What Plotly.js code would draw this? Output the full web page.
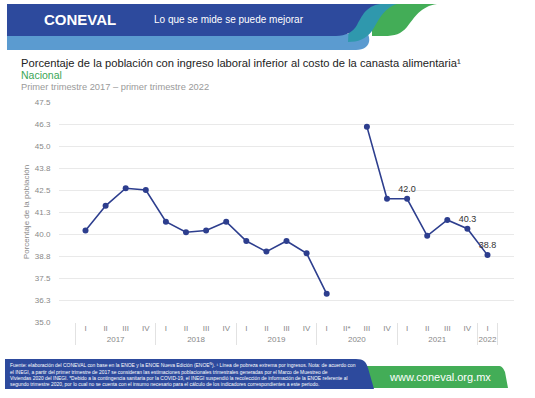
<!DOCTYPE html>
<html>
<head>
<meta charset="utf-8">
<script src="https://cdn.plot.ly/plotly-3.0.1.min.js"></script>
<style>
html,body{margin:0;padding:0;background:#fff;}
#chart{width:535px;height:398px;}
</style>
</head>
<body>
<div id="chart"></div>
<script>
// ---- data ----
var years = ['2017','2017','2017','2017','2018','2018','2018','2018','2019','2019','2019','2019','2020','2020','2020','2020','2021','2021','2021','2021','2022'];
var quarters = ['I','II','III','IV','I','II','III','IV','I','II','III','IV','I','II*','III','IV','I','II','III','IV','I'];
var values = [40.2, 41.6, 42.6, 42.5, 40.7, 40.1, 40.2, 40.7, 39.6, 39.0, 39.6, 38.9, 36.6, null, 46.1, 42.0, 42.0, 39.9, 40.8, 40.3, 38.8];
var pointLabels = ['','','','','','','','','','','','','','','','','42.0','','','40.3','38.8'];
var yTickVals = [35.0, 36.25, 37.5, 38.75, 40.0, 41.25, 42.5, 43.75, 45.0, 46.25, 47.5];
var yTickText = ['35.0','36.3','37.5','38.8','40.0','41.3','42.5','43.8','45.0','46.3','47.5'];

// ---- pixel -> paper helpers (plot area: x 59..514, y 102..322) ----
var L = 59, R = 514, T = 102, B = 322;
function fx(px){ return (px - L) / (R - L); }
function fy(py){ return (B - py) / (B - T); }
function toPaper(d){
  return d.replace(/(-?\d+\.?\d*),(-?\d+\.?\d*)/g, function(m,a,b){
    return fx(parseFloat(a)).toFixed(5) + ',' + fy(parseFloat(b)).toFixed(5);
  });
}
function shp(d, color){
  return {type:'path', xref:'paper', yref:'paper', path: toPaper(d), fillcolor: color, line:{width:0}, layer:'above'};
}
function ann(text, px, py, opts){
  var a = {text: text, xref:'paper', yref:'paper', x: fx(px), y: fy(py), showarrow:false,
           xanchor:'left', yanchor:'middle', font:{family:'Liberation Sans, Arial, sans-serif', size:10, color:'#222'}};
  for (var k in opts){ a[k] = opts[k]; }
  return a;
}

// Invisible trace that registers every category so that Plotly's multicategory
// sort keeps the chronological order (the second level 'II*' must be seen before 'III').
var orderIdx = [0, 1, 4, 8, 13];
for (var i = 0; i < years.length; i++) { if (orderIdx.indexOf(i) < 0) orderIdx.push(i); }
var orderTrace = {
  x: [orderIdx.map(function(i){ return years[i]; }), orderIdx.map(function(i){ return quarters[i]; })],
  y: orderIdx.map(function(){ return yTickVals[0]; }),
  type: 'scatter', mode: 'markers',
  marker: {opacity: 0, size: 1},
  hoverinfo: 'none'
};

var trace = {
  x: [years, quarters],
  y: values,
  type: 'scatter',
  mode: 'lines+markers+text',
  text: pointLabels,
  textposition: 'top center',
  textfont: {family:'Liberation Sans, Arial, sans-serif', size: 9, color:'#333'},
  connectgaps: false,
  line: {color:'#2d3e8e', width: 1.6},
  marker: {color:'#2d3e8e', size: 6},
  hoverinfo: 'none',
  cliponaxis: false
};

var shapes = [
  // header
  shp('M 7,34 L 368,34 C 372,44 366,50 356,50 L 7,50 Z', '#5b9bd0'),
  shp('M 372,4 L 437,4 C 421,6 414,18 407,27 C 401,34 395,36 384,36 L 372,36 Z', '#43ad57'),
  shp('M 350,4 L 397,4 C 383,8 378,22 372,31 C 366,39 358,42 348,42 L 350,4 Z', '#2f98ad'),
  shp('M 7,4 L 380,4 C 366,6 362,16 357,25 C 353,32 346,36 336,36 L 7,36 Z', '#2d4a9d'),
  // footer
  shp('M 345,366 L 498,366 C 502,366 503,368 505,372 L 508,388 L 345,388 Z', '#43ad57'),
  shp('M 5,359 L 356,359 C 364,359 366,362 368,368 L 374,389 L 5,389 Z', '#2d4a9d')
];

var footerText = 'Fuente: elaboración del CONEVAL con base en la ENOE y la ENOE Nueva Edición (ENOE<sup>N</sup>). ¹ Línea de pobreza extrema por ingresos. Nota: de acuerdo con<br>' +
  'el INEGI, a partir del primer trimestre de 2017 se consideran las estimaciones poblacionales trimestrales generadas por el Marco de Muestreo de<br>' +
  'Viviendas 2020 del INEGI. *Debido a la contingencia sanitaria por la COVID-19, el INEGI suspendió la recolección de información de la ENOE referente al<br>' +
  'segundo trimestre 2020, por lo cual no se cuenta con el insumo necesario para el cálculo de los indicadores correspondientes a este periodo.';

var annotations = [
  ann('<b>CONEVAL</b>', 42, 19, {font:{family:'Liberation Sans, Arial, sans-serif', size:15, color:'#ffffff'}}),
  ann('Lo que se mide se puede mejorar', 152, 20, {font:{family:'Liberation Sans, Arial, sans-serif', size:10, color:'#ffffff'}}),
  ann('Porcentaje de la población con ingreso laboral inferior al costo de la canasta alimentaria¹', 19, 63, {font:{family:'Liberation Sans, Arial, sans-serif', size:11.2, color:'#222'}}),
  ann('Nacional', 19, 75, {font:{family:'Liberation Sans, Arial, sans-serif', size:10.5, color:'#3aa655'}}),
  ann('Primer trimestre 2017 – primer trimestre 2022', 19, 87, {font:{family:'Liberation Sans, Arial, sans-serif', size:9.3, color:'#9a9a9a'}}),
  ann(footerText, 8, 374, {align:'left', font:{family:'Liberation Sans, Arial, sans-serif', size:4.95, color:'#ffffff'}}),
  ann('www.coneval.org.mx', 387, 377, {font:{family:'Liberation Sans, Arial, sans-serif', size:11, color:'#ffffff'}})
];

var layout = {
  width: 535, height: 398,
  margin: {l: L, r: 535 - R, t: T, b: 398 - B},
  paper_bgcolor: '#ffffff', plot_bgcolor: '#ffffff',
  showlegend: false,
  font: {family:'Liberation Sans, Arial, sans-serif', color:'#777'},
  xaxis: {
    type: 'multicategory',
    showgrid: false, zeroline: false, showline: false,
    showdividers: true, dividercolor: '#e2e2e2', dividerwidth: 1,
    tickfont: {size: 8, color:'#888'},
    ticks: 'outside', ticklen: 7, tickcolor: 'rgba(0,0,0,0)'
  },
  yaxis: {
    range: [35, 47.5],
    tickmode: 'array', tickvals: yTickVals, ticktext: yTickText,
    showgrid: true, gridcolor: '#e9e9e9', gridwidth: 1,
    zeroline: false, showline: false,
    ticks: 'outside', ticklen: 6, tickcolor: 'rgba(0,0,0,0)',
    tickfont: {size: 8, color:'#888'},
    title: {text: 'Porcentaje de la población', font: {size: 8, color:'#888'}, standoff: 4}
  },
  shapes: shapes,
  annotations: annotations
};

Plotly.newPlot('chart', [orderTrace, trace], layout, {displayModeBar: false, staticPlot: true});
</script>
</body>
</html>
